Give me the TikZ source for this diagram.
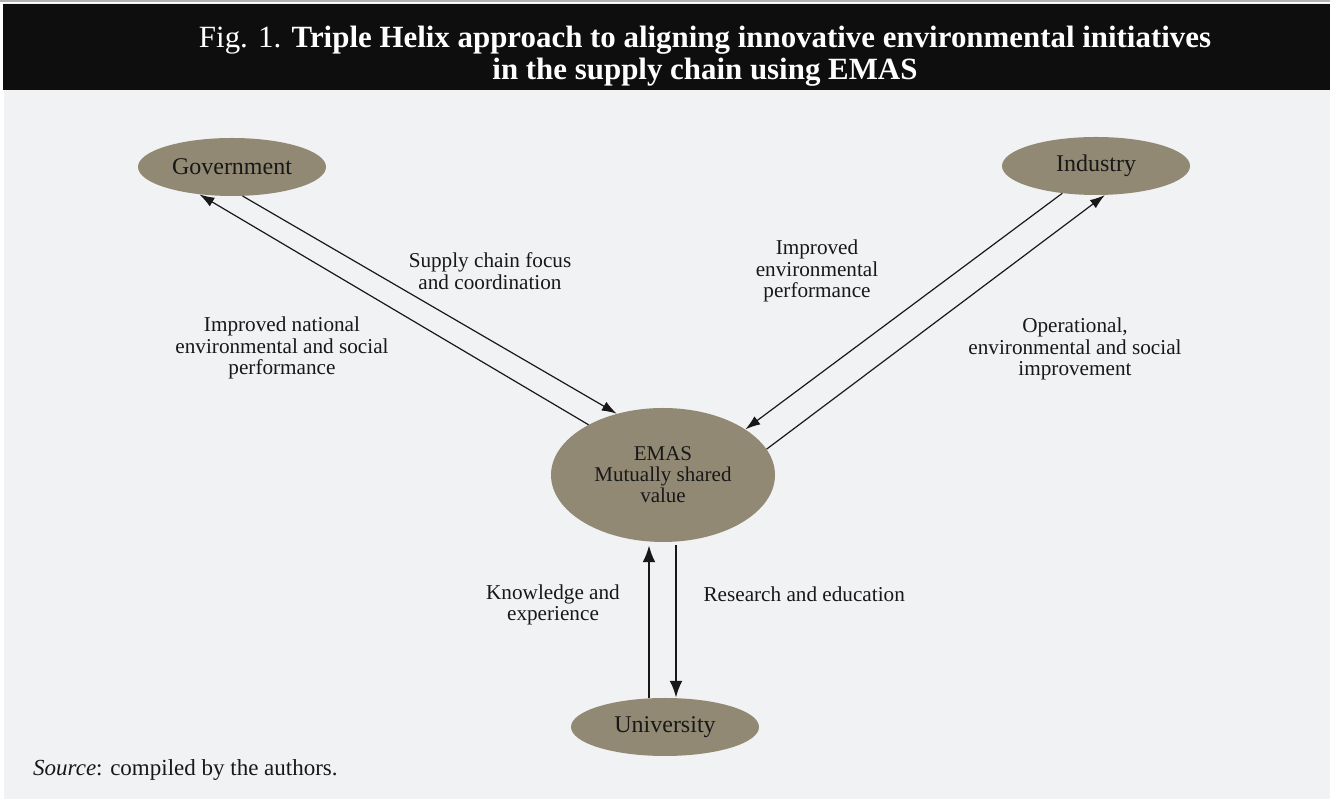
\documentclass[tikz,border=0pt]{standalone}
\usepackage{fontspec}
\setmainfont{Liberation Serif}
\usetikzlibrary{arrows.meta, positioning, calc, shapes.geometric}
\definecolor{thkhaki}{RGB}{145,137,115}
\definecolor{thgray}{RGB}{241,242,244}
\definecolor{thblack}{RGB}{14,14,14}
\definecolor{thdark}{RGB}{24,24,24}

\begin{document}
\begin{tikzpicture}[x=1pt, y=1pt,
  actor/.style={ellipse, fill=thkhaki, text=thdark, inner sep=0pt,
    minimum width=188pt, minimum height=58pt, font=\fontsize{24}{25}\selectfont},
  hub/.style={actor, minimum width=224pt, minimum height=134pt, align=center,
    font=\fontsize{21}{21}\selectfont},
  flow/.style={-{Latex[length=15pt,width=10pt]}, line width=1.2pt, thdark},
  flowup/.style={-{Latex[length=17pt,width=13pt]}, line width=2.6pt, thdark},
  lbl/.style={text=thdark, align=center, font=\fontsize{21.2}{21.5}\selectfont}]
\useasboundingbox (0,0) rectangle (1330,799);
% outer
\fill[white] (0,0) rectangle (1330,799);
\fill[thgray] (4,0) rectangle (1330,796);
\fill[gray!60] (0,797) rectangle (1330,799);

% title bar
\fill[thblack] (3,709) rectangle (1330,795);
\node[white, align=center, font=\fontsize{30.9}{32}\selectfont] (title) at (705,743)
  {Fig. 1. \textbf{Triple Helix approach to aligning innovative environmental initiatives}\\
   \textbf{in the supply chain using EMAS}};

% ---- helix actors ----
\node[actor] (gov) at (232,632) {Government};
\node[actor] (ind) at (1096,633) {Industry};
\node[hub]   (emas) at (663,324) {EMAS\\Mutually shared\\value};
\node[actor] (uni) at (665,72) {University};

% ---- flows ----
\draw[flow] (emas.146) -- (gov.220);
\draw[flow] (gov.-70) -- (emas.127);
\draw[flow] (ind.219) -- (emas.29);
\draw[flow] (emas.14) -- (ind.-73);
\draw[flowup] ([xshift=-16pt]uni.north) -- ([xshift=-14pt,yshift=-3pt]emas.south);
\draw[flowup] ([xshift=13pt,yshift=-3pt]emas.south) -- ([xshift=11pt]uni.north);

% ---- flow labels ----
\node[lbl] (focus) at (490,528) {Supply chain focus\\and coordination};
\node[lbl] (natperf) at (282,451) {Improved national\\environmental and social\\performance};
\node[lbl] (envperf) at (817,528) {Improved\\environmental\\performance};
\node[lbl] (opimp) at (1075,450) {Operational,\\environmental and social\\improvement};
\node[lbl] (knowl) at (553,194) {Knowledge and\\experience};
\node[lbl, anchor=west] (research) at (700,205) {Research and education};

% source
\node[thdark, anchor=west, inner sep=0pt, font=\fontsize{23}{24}\selectfont] (src) at (33,29)
  {\textit{Source}: compiled by the authors.};
\end{tikzpicture}
\end{document}
